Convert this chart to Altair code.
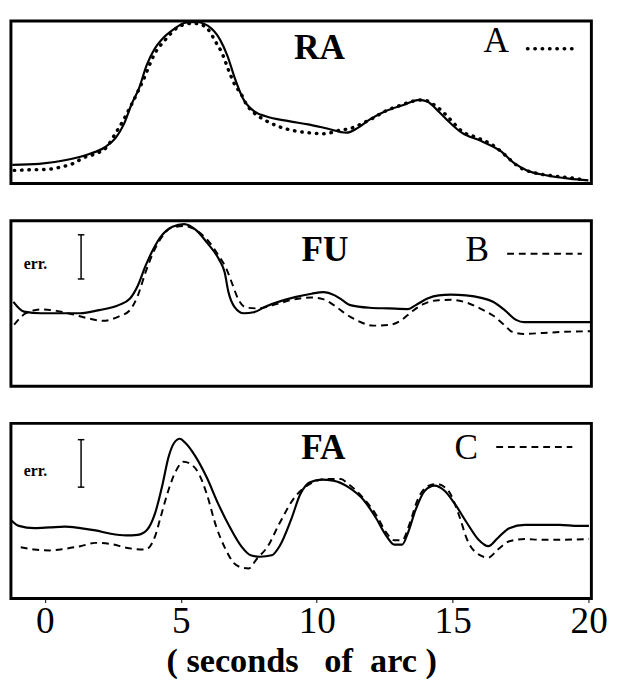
import altair as alt
import pandas as pd

FONT = "Liberation Serif"
X_DOMAIN = [-1.25, 20.1]
X_TICKS = [0, 5, 10, 15, 20]

# ---- Panel RA (solid observed, dotted model A) ----
ra_solid_x = [-1.2, -0.21, 0.78, 1.63, 2.19, 2.61, 2.90, 3.18, 3.46, 3.74, 4.03, 4.31, 4.73, 5.16, 5.58, 6.00, 6.43, 6.71, 6.99, 7.28, 7.70, 8.12, 8.97, 9.68, 10.38, 11.09, 11.51, 11.94, 12.50, 13.21, 13.77, 14.06, 14.48, 14.90, 15.33, 16.03, 16.74, 17.30, 17.73, 18.43, 19.28, 19.99]
ra_solid_y = [11.5, 12.1, 14.5, 18.2, 22.2, 28.3, 36.4, 48.5, 58.6, 72.7, 82.8, 88.9, 94.9, 99.0, 99.4, 97.0, 88.9, 78.8, 64.6, 52.5, 44.4, 41.4, 38.4, 36.4, 33.9, 31.3, 34.3, 39.4, 44.4, 48.5, 51.5, 50.5, 44.4, 37.4, 31.3, 26.3, 20.2, 12.1, 8.1, 5.1, 3.0, 2.0]
ra_dot_x = [-1.13, -0.49, 0.07, 0.57, 1.06, 1.41, 1.84, 2.26, 2.61, 2.90, 3.18, 3.39, 3.67, 3.89, 4.03, 4.24, 4.45, 4.66, 4.87, 5.16, 5.44, 5.72, 6.00, 6.29, 6.50, 6.78, 6.99, 7.20, 7.42, 7.70, 8.12, 8.55, 9.11, 9.68, 10.31, 10.81, 11.23, 11.65, 12.08, 12.50, 13.07, 13.49, 13.91, 14.27, 14.62, 14.97, 15.33, 15.89, 16.60, 16.88, 17.45, 18.15, 18.86, 19.56, 19.85]
ra_dot_y = [8.1, 8.5, 8.7, 10.1, 12.5, 15.8, 18.2, 22.2, 31.3, 39.4, 48.5, 55.6, 65.7, 74.7, 79.8, 84.8, 88.9, 92.9, 96.0, 98.0, 98.6, 98.0, 94.9, 86.9, 80.8, 68.7, 60.6, 55.6, 48.5, 43.4, 38.8, 35.4, 32.7, 31.3, 30.7, 32.7, 33.9, 36.8, 40.4, 44.4, 48.1, 50.5, 51.5, 48.9, 44.4, 38.4, 32.3, 28.3, 22.2, 18.2, 10.1, 6.1, 4.4, 3.0, 2.0]

# ---- Panel FU (solid observed, dashed model B) ----
fu_solid_x = [-1.16, -0.77, -0.14, 0.43, 1.00, 1.29, 2.00, 2.71, 3.13, 3.42, 3.70, 3.98, 4.27, 4.69, 5.12, 5.55, 5.97, 6.40, 6.61, 6.75, 6.97, 7.32, 7.68, 8.10, 8.67, 9.24, 9.81, 10.23, 10.66, 10.94, 11.23, 11.94, 12.65, 13.36, 13.64, 14.07, 14.49, 14.92, 15.49, 16.05, 16.48, 16.91, 17.33, 17.62, 18.33, 19.04, 20.1]
fu_solid_y = [51.0, 45.1, 44.1, 44.1, 44.1, 44.1, 46.0, 49.0, 53.0, 60.9, 72.7, 82.6, 90.5, 96.4, 98.0, 94.5, 86.6, 76.7, 68.8, 56.9, 48.0, 44.1, 44.7, 48.0, 51.4, 54.0, 55.9, 56.9, 54.9, 52.0, 49.0, 47.4, 47.0, 46.6, 49.0, 53.0, 54.9, 55.3, 54.9, 53.4, 51.0, 46.0, 40.1, 38.7, 38.7, 38.7, 38.7]
fu_dash_x = [-1.13, -0.70, -0.14, 0.43, 1.00, 1.57, 2.14, 2.71, 3.13, 3.42, 3.70, 3.98, 4.27, 4.69, 5.12, 5.55, 5.97, 6.40, 6.68, 6.89, 7.11, 7.39, 7.82, 8.39, 9.10, 9.81, 10.23, 10.66, 11.08, 11.51, 12.08, 12.65, 13.07, 13.50, 13.92, 14.49, 14.92, 15.49, 16.05, 16.48, 16.91, 17.19, 17.62, 18.33, 19.04, 20.1]
fu_dash_y = [37.2, 44.1, 46.4, 45.5, 43.5, 41.1, 39.5, 42.1, 46.0, 54.9, 68.8, 80.6, 89.5, 96.0, 96.8, 94.5, 88.5, 78.7, 70.8, 61.9, 52.6, 47.6, 47.0, 49.0, 52.2, 53.6, 52.6, 48.6, 43.5, 39.5, 36.6, 37.0, 39.5, 45.1, 49.6, 52.0, 52.2, 50.6, 46.6, 42.7, 36.8, 32.8, 31.6, 32.2, 32.8, 33.2]

# ---- Panel FA (solid observed, dashed model C) ----
fa_solid_x = [-1.25, -0.96, -0.39, 0.17, 0.73, 1.30, 1.86, 2.42, 2.99, 3.41, 3.76, 4.05, 4.33, 4.54, 4.75, 4.96, 5.17, 5.53, 5.95, 6.37, 6.79, 7.22, 7.57, 7.92, 8.34, 8.63, 9.05, 9.40, 9.75, 10.18, 10.60, 11.16, 11.73, 12.15, 12.57, 12.85, 13.14, 13.35, 13.63, 13.98, 14.33, 14.69, 15.11, 15.53, 15.95, 16.31, 16.66, 17.08, 17.65, 18.21, 18.92, 19.62, 20.01]
fa_solid_y = [44.9, 41.5, 40.2, 40.6, 41.1, 40.2, 38.9, 37.0, 36.1, 36.4, 39.3, 48.6, 65.4, 80.4, 88.8, 91.2, 88.8, 81.3, 69.2, 54.2, 41.1, 29.9, 24.7, 23.9, 24.7, 29.9, 44.9, 59.8, 66.4, 67.9, 67.3, 63.6, 56.1, 46.7, 35.5, 30.8, 30.8, 37.4, 50.5, 61.7, 64.5, 61.7, 53.3, 43.0, 33.6, 29.9, 34.6, 40.2, 42.1, 42.1, 42.1, 41.5, 41.5]
fa_dash_x = [-0.89, -0.39, 0.17, 0.73, 1.30, 1.86, 2.42, 2.99, 3.69, 4.05, 4.26, 4.54, 4.82, 5.10, 5.38, 5.67, 5.95, 6.30, 6.65, 6.93, 7.22, 7.50, 7.78, 8.20, 8.63, 9.19, 9.75, 10.32, 10.88, 11.16, 11.73, 12.15, 12.57, 12.85, 13.14, 13.42, 13.70, 14.12, 14.40, 14.83, 15.25, 15.53, 15.95, 16.31, 16.66, 17.08, 17.65, 18.21, 18.92, 20.01]
fa_dash_y = [29.3, 28.0, 27.5, 28.4, 29.9, 31.8, 31.2, 29.0, 28.0, 35.5, 46.7, 61.7, 72.9, 78.1, 76.6, 71.0, 59.8, 41.1, 28.0, 20.6, 17.8, 17.2, 22.4, 29.9, 43.0, 57.9, 65.4, 68.2, 68.2, 65.4, 57.0, 48.6, 37.4, 33.3, 33.3, 43.0, 56.1, 64.5, 65.4, 61.7, 46.7, 33.6, 25.2, 23.4, 28.0, 32.7, 34.0, 33.6, 33.6, 34.0]

panel_names = ["RA", "FU", "FA"]
model_letters = ["A", "B", "C"]
x_title = "( seconds\u00a0\u00a0 of\u00a0 arc )"
err_label = "err."

xscale = alt.Scale(domain=X_DOMAIN, nice=False, zero=False)
yscale = alt.Scale(domain=[0, 100], nice=False, zero=False)


def make_panel(sx, sy, cx, cy, cmp_style, name, letter, name_pos, letter_pos,
               legend_seg, err, height, show_axis):
    if show_axis:
        xaxis = alt.Axis(values=X_TICKS, labelFont=FONT, labelFontSize=38,
                         labelColor="black", labelPadding=1, domain=False,
                         ticks=True, tickSize=4, tickColor="black", tickWidth=1,
                         grid=False, labelFlush=False, title=x_title,
                         titleFont=FONT, titleFontSize=35, titleFontWeight="bold",
                         titleColor="black", titlePadding=4)
    else:
        xaxis = None
    X = lambda f="x": alt.X(f"{f}:Q", scale=xscale, axis=xaxis)
    Y = lambda f="y": alt.Y(f"{f}:Q", scale=yscale, axis=None)

    solid = alt.Chart(pd.DataFrame({"x": sx, "y": sy})).mark_line(
        color="black", strokeWidth=2.2, interpolate="monotone", clip=True
    ).encode(x=X(), y=Y())
    comp = alt.Chart(pd.DataFrame({"x": cx, "y": cy})).mark_line(
        color="black", interpolate="monotone", clip=True, **cmp_style
    ).encode(x=X(), y=Y())

    name_t = alt.Chart(pd.DataFrame({"x": [name_pos[0]], "y": [name_pos[1]], "t": [name]})).mark_text(
        font=FONT, fontSize=36, fontWeight="bold", color="black", align="center", baseline="middle"
    ).encode(x=X(), y=Y(), text="t:N")
    letter_t = alt.Chart(pd.DataFrame({"x": [letter_pos[0]], "y": [letter_pos[1]], "t": [letter]})).mark_text(
        font=FONT, fontSize=36, color="black", align="center", baseline="middle"
    ).encode(x=X(), y=Y(), text="t:N")
    leg = alt.Chart(pd.DataFrame({"x": [legend_seg[0]], "x2": [legend_seg[1]], "y": [legend_seg[2]]})).mark_rule(
        color="black", **cmp_style
    ).encode(x=X(), x2="x2:Q", y=Y())

    layers = [solid, comp, name_t, letter_t, leg]
    if err is not None:
        ex, ey1, ey2, tx, ty = err
        layers.append(alt.Chart(pd.DataFrame({"x": [ex], "y": [ey1], "y2": [ey2]})).mark_rule(
            color="black", strokeWidth=1.5).encode(x=X(), y=Y(), y2="y2:Q"))
        layers.append(alt.Chart(pd.DataFrame({"x": [ex - 0.12, ex - 0.12], "x2": [ex + 0.12, ex + 0.12], "y": [ey1, ey2]})).mark_rule(
            color="black", strokeWidth=1.5).encode(x=X(), x2="x2:Q", y=Y()))
        layers.append(alt.Chart(pd.DataFrame({"x": [tx], "y": [ty], "t": [err_label]})).mark_text(
            font=FONT, fontSize=16, fontWeight="bold", color="black", align="center", baseline="middle"
        ).encode(x=X(), y=Y(), text="t:N"))
    return alt.layer(*layers).properties(width=593, height=height)


dotted = {"strokeDash": [0.5, 7], "strokeCap": "round", "strokeWidth": 3.5}
dashed = {"strokeDash": [7, 5], "strokeWidth": 2}

p1 = make_panel(ra_solid_x, ra_solid_y, ra_dot_x, ra_dot_y, dotted, panel_names[0], model_letters[0],
                (10.1, 83.0), (16.6, 87.5), (17.75, 19.55, 83.0), None, 166, False)
p2 = make_panel(fu_solid_x, fu_solid_y, fu_dash_x, fu_dash_y, dashed, panel_names[1], model_letters[1],
                (10.3, 82.0), (15.9, 82.0), (17.0, 19.75, 80.0), (1.33, 91.5, 64.8, -0.35, 73.7), 169, False)
p3 = make_panel(fa_solid_x, fa_solid_y, fa_dash_x, fa_dash_y, dashed, panel_names[2], model_letters[2],
                (10.24, 86.0), (15.5, 86.0), (16.6, 19.4, 86.5), (1.33, 90.7, 63.6, -0.35, 72.9), 179, True)

chart = alt.vconcat(p1, p2, p3, spacing=34).properties(
    padding={"left": 1, "top": 4, "right": 0, "bottom": 0},
    background="white"
).configure_view(stroke="black", strokeWidth=3)

chart.save("out.html", embed_options={"renderer": "svg", "actions": False})
